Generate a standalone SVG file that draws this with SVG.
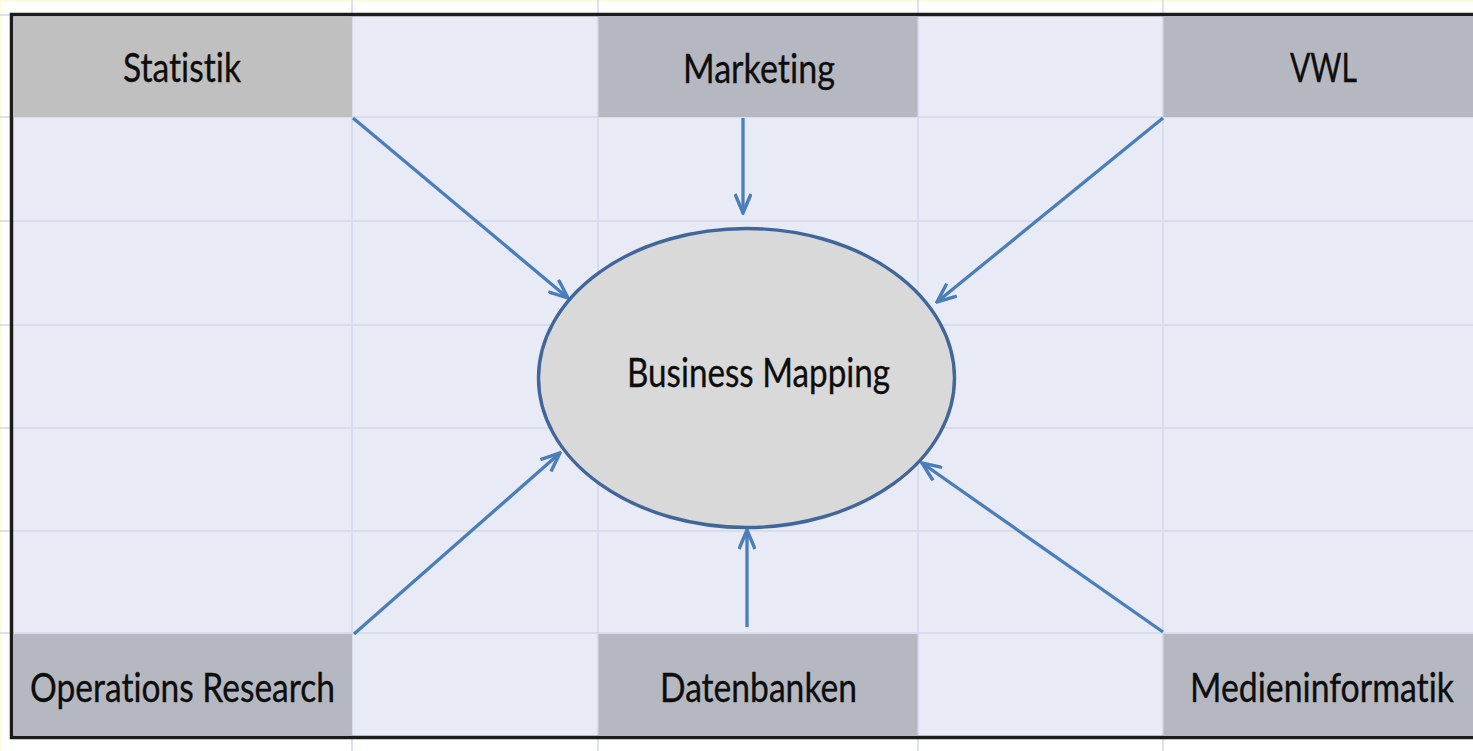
<svg xmlns="http://www.w3.org/2000/svg" width="1473" height="751" viewBox="0 0 1473 751">
  <style>
    .grid { stroke: #d2d8e8; stroke-width: 1.5; }
    .box-a { fill: #c0c0c0; }
    .box-b { fill: #b5b8c0; }
    .label { font-family: Lato, "Liberation Sans", sans-serif; font-size: 41px; fill: #0d0d0d; stroke: #0d0d0d; stroke-width: 0.35; font-variant-ligatures: none; }
    .conn { stroke: #4a7ebb; stroke-width: 3.3; fill: none; marker-end: url(#head); }
  </style>
  <defs>
    <marker id="head" viewBox="0 0 22 18" markerWidth="22" markerHeight="18" refX="20" refY="9" orient="auto" markerUnits="userSpaceOnUse">
      <path d="M1,1 L20,9 L1,17" fill="none" stroke="#4a7ebb" stroke-width="3.4" stroke-linejoin="miter"/>
    </marker>
  </defs>

  <!-- sheet background -->
  <rect x="0" y="0" width="1473" height="751" fill="#ffffff"/>
  <rect x="0" y="0" width="1473" height="2" fill="#fdfbdc"/>
  <rect x="0" y="0" width="1.5" height="751" fill="#fdfbdc"/>
  <rect x="12" y="15" width="1461" height="722" fill="#e8ebf5"/>

  <!-- cell grid -->
  <g id="grid" class="grid">
    <line x1="352" y1="0" x2="352" y2="751"/>
    <line x1="598" y1="0" x2="598" y2="751"/>
    <line x1="918" y1="0" x2="918" y2="751"/>
    <line x1="1163" y1="0" x2="1163" y2="751"/>
    <line x1="0" y1="15" x2="12" y2="15"/>
    <line x1="0" y1="117" x2="1473" y2="117"/>
    <line x1="0" y1="221" x2="1473" y2="221"/>
    <line x1="0" y1="325" x2="1473" y2="325"/>
    <line x1="0" y1="428" x2="1473" y2="428"/>
    <line x1="0" y1="531" x2="1473" y2="531"/>
    <line x1="0" y1="633" x2="1473" y2="633"/>
  </g>

  <!-- outer frame -->
  <path d="M1473,14.5 H11.5 V737.5 H1473" fill="none" stroke="#1c1c1c" stroke-width="3.5"/>

  <!-- connectors -->
  <g id="connectors">
    <line class="conn" x1="353" y1="118" x2="568" y2="298"/>
    <line class="conn" x1="743" y1="118" x2="743" y2="213"/>
    <line class="conn" x1="1163" y1="118" x2="937" y2="302"/>
    <line class="conn" x1="354" y1="634" x2="560" y2="453"/>
    <line class="conn" x1="747" y1="627" x2="747" y2="530"/>
    <line class="conn" x1="1163" y1="632" x2="922" y2="463"/>
  </g>

  <g id="statistik">
    <rect class="box-a" x="13" y="16.5" width="339" height="100.5"/>
    <text class="label" x="123" y="82" textLength="118" lengthAdjust="spacingAndGlyphs">Statistik</text>
  </g>
  <g id="marketing">
    <rect class="box-b" x="598.5" y="16.5" width="319" height="100.5"/>
    <text class="label" x="683" y="83" textLength="152" lengthAdjust="spacingAndGlyphs">Marketing</text>
  </g>
  <g id="vwl">
    <rect class="box-b" x="1163.5" y="16.5" width="310" height="100.5"/>
    <text class="label" x="1290" y="82" textLength="67" lengthAdjust="spacingAndGlyphs">VWL</text>
  </g>
  <g id="operations-research">
    <rect class="box-b" x="13" y="634" width="339" height="101.5"/>
    <text class="label" x="30" y="702" textLength="305" lengthAdjust="spacingAndGlyphs">Operations Research</text>
  </g>
  <g id="datenbanken">
    <rect class="box-b" x="598.5" y="634" width="319" height="101.5"/>
    <text class="label" x="660" y="702" textLength="197" lengthAdjust="spacingAndGlyphs">Datenbanken</text>
  </g>
  <g id="medieninformatik">
    <rect class="box-b" x="1163.5" y="634" width="310" height="101.5"/>
    <text class="label" transform="translate(1190 702) scale(0.85 1)" x="0" y="0" textLength="310.6" lengthAdjust="spacingAndGlyphs">Medieninformatik</text>
  </g>

  <g id="business-mapping">
    <ellipse cx="746.5" cy="378" rx="208" ry="149.5" fill="#d9d9d9" stroke="#41669a" stroke-width="3.4"/>
    <text class="label" x="627" y="387" textLength="263" lengthAdjust="spacingAndGlyphs">Business Mapping</text>
  </g>
</svg>
